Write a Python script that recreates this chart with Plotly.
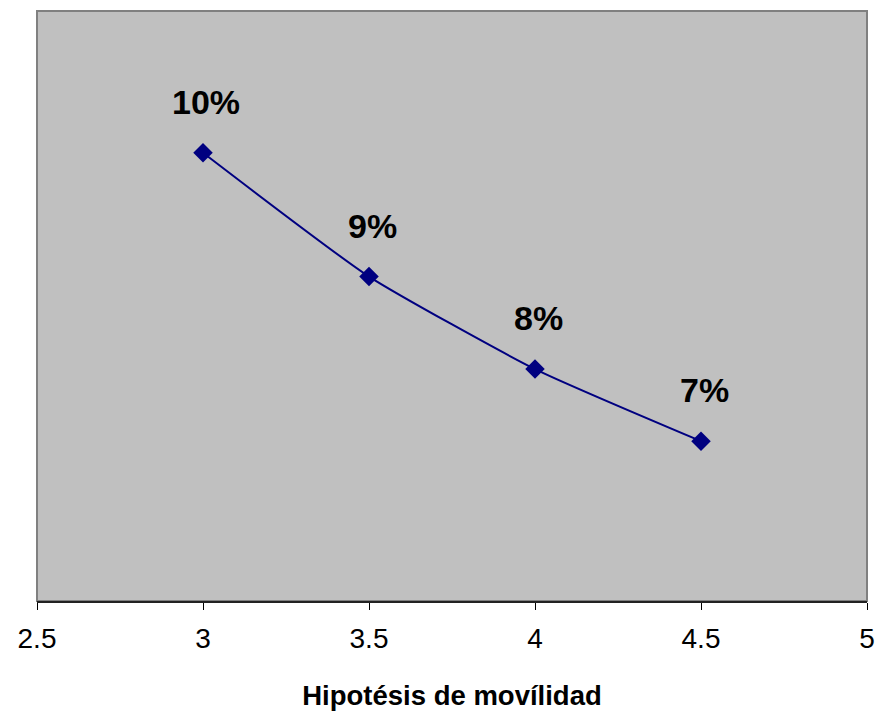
import plotly.graph_objects as go

movilidad = [3, 3.5, 4, 4.5]
valores = [0.0955, 0.0852, 0.0775, 0.0715]
etiquetas = ["10%", "9%", "8%", "7%"]
x_ticks = [2.5, 3, 3.5, 4, 4.5, 5]
x_tick_labels = ["2.5", "3", "3.5", "4", "4.5", "5"]

fig = go.Figure()
fig.add_trace(go.Scatter(
    x=movilidad, y=valores, mode="lines+markers",
    line=dict(color="#000080", width=2, shape="spline", smoothing=0.5),
    marker=dict(symbol="diamond", size=15, color="#000080"),
    showlegend=False, hoverinfo="skip",
))
for xv, yv, t in zip(movilidad, valores, etiquetas):
    fig.add_annotation(x=xv, y=yv, text="<b>%s</b>" % t, showarrow=False,
                       xshift=3, yshift=51,
                       font=dict(family="Liberation Sans, Arial", size=34, color="black"))

fig.update_layout(
    width=878, height=711,
    margin=dict(l=37, r=11, t=11, b=110),
    paper_bgcolor="white", plot_bgcolor="#C0C0C0",
    font=dict(family="Liberation Sans, Arial", color="black"),
    xaxis=dict(range=[2.5, 5], tickvals=x_ticks, ticktext=x_tick_labels,
               ticks="outside", ticklen=7, tickcolor="black", tickwidth=1,
               tickfont=dict(size=28), ticklabelstandoff=4,
               showgrid=False, zeroline=False,
               showline=True, linecolor="#222222", linewidth=2, mirror=False,
               automargin=False,
               title=dict(text="<b>Hipotésis de movílidad</b>", font=dict(size=27.5), standoff=34)),
    yaxis=dict(range=[0.0582, 0.1073], showticklabels=False, showgrid=False,
               zeroline=False, ticks="", showline=False, automargin=False),
    shapes=[dict(type="rect", xref="paper", yref="paper", x0=0, x1=1, y0=0, y1=1,
                 line=dict(color="#808080", width=2), fillcolor="rgba(0,0,0,0)", layer="below")],
)
fig.write_html("out.html", config={"displayModeBar": False},
               post_script="document.body.style.margin='0';document.body.style.overflow='hidden';")
